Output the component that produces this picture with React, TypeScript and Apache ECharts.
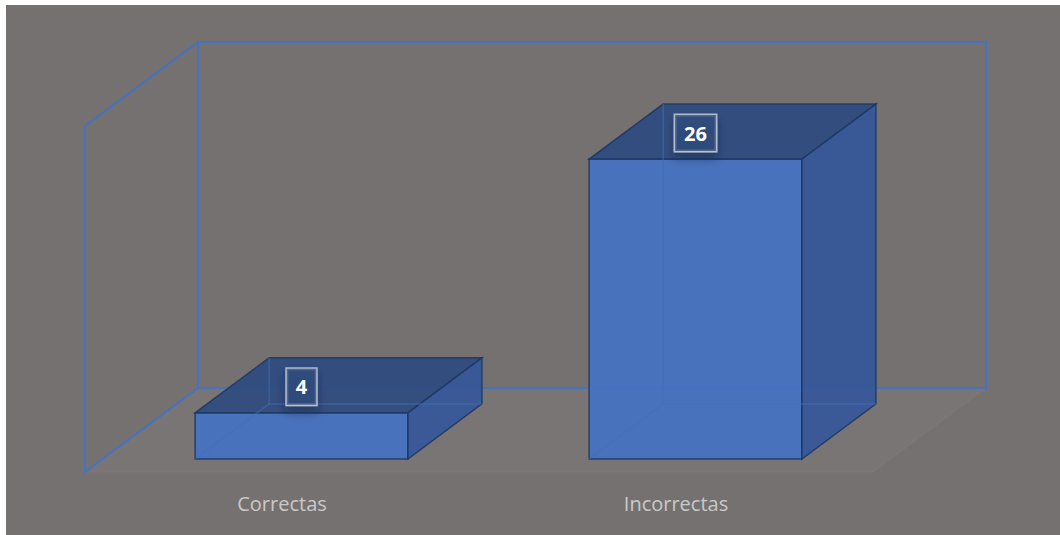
import React, { useEffect, useRef } from "react";
import * as echarts from "echarts";

const categories = ["Correctas", "Incorrectas"];
const values = [4, 26];
const yMax = 30;

// 3D projection constants (depth offset of the back plane)
const DX = 113;
const DY = -84;
const FRONT_T = 0.155;
const BACK_T = 0.81;
const BAR_RATIO = 0.54;
const BAR_SHIFT = 2;

export default function App() {
  const ref = useRef<HTMLDivElement>(null);

  useEffect(() => {
    const chart = echarts.init(ref.current!, null, { renderer: "svg" });

    const wallColor = "#4472C4";

    const renderWalls = (params: any, api: any) => {
      const cs = params.coordSys;
      const x = cs.x, y = cs.y, w = cs.width, h = cs.height;
      return {
        type: "group",
        children: [
          {
            type: "polygon",
            shape: {
              points: [
                [x, y + h],
                [x + w, y + h],
                [x + w + DX, y + h + DY],
                [x + DX, y + h + DY],
              ],
            },
            style: { fill: "rgba(255,255,255,0.03)", stroke: "rgba(255,255,255,0.04)", lineWidth: 1 },
          },
          {
            type: "polygon",
            shape: {
              points: [
                [x + DX, y + DY],
                [x + w + DX, y + DY],
                [x + w + DX, y + h + DY],
                [x + DX, y + h + DY],
              ],
            },
            style: { fill: "none", stroke: wallColor, lineWidth: 2 },
          },
          {
            type: "polyline",
            shape: {
              points: [
                [x + DX, y + DY],
                [x, y],
                [x, y + h],
                [x + DX, y + h + DY],
              ],
            },
            style: { fill: "none", stroke: wallColor, lineWidth: 2 },
          },
        ],
      };
    };

    const renderBars = (params: any, api: any) => {
      const idx = api.value(0);
      const v = api.value(1);
      const top = api.coord([idx, v]);
      const base = api.coord([idx, 0]);
      const half = (api.size([1, 0])[0] * BAR_RATIO) / 2;
      const cx = top[0] + BAR_SHIFT;
      const P = (xo: number, yy: number, t: number) => [cx + xo + DX * t, yy + DY * t];
      const FBL = P(-half, base[1], FRONT_T);
      const FBR = P(half, base[1], FRONT_T);
      const FTR = P(half, top[1], FRONT_T);
      const FTL = P(-half, top[1], FRONT_T);
      const BBL = P(-half, base[1], BACK_T);
      const BBR = P(half, base[1], BACK_T);
      const BTR = P(half, top[1], BACK_T);
      const BTL = P(-half, top[1], BACK_T);
      const edge = "#1F3864";
      const hidden = { stroke: "rgba(70,110,185,0.55)", lineWidth: 1.5, fill: "none" };
      return {
        type: "group",
        children: [
          {
            type: "polygon",
            shape: { points: [FBL, FBR, FTR, FTL] },
            style: { fill: "#4472C4", opacity: 0.9, stroke: edge, lineWidth: 1.5 },
          },
          {
            type: "polygon",
            shape: { points: [FTL, FTR, BTR, BTL] },
            style: { fill: "#2C4A80", opacity: 0.9, stroke: edge, lineWidth: 1.5 },
          },
          {
            type: "polygon",
            shape: { points: [FTR, BTR, BBR, FBR] },
            style: { fill: "#33569A", opacity: 0.9, stroke: edge, lineWidth: 1.5 },
          },
          { type: "polyline", shape: { points: [FBL, BBL, BBR] }, style: hidden },
          { type: "line", shape: { x1: BBL[0], y1: BBL[1], x2: BTL[0], y2: BTL[1] }, style: hidden },
          {
            type: "text",
            x: cx + DX * FRONT_T,
            y: top[1] + DY * FRONT_T - 26,
            style: {
              text: String(v),
              fill: "#ffffff",
              fontFamily: "Open Sans",
              fontWeight: "bold",
              fontSize: 20,
              align: "center",
              verticalAlign: "middle",
              backgroundColor: "rgba(50,78,128,0.75)",
              borderColor: "rgba(255,255,255,0.6)",
              borderWidth: 1.5,
              padding: [8, 9],
              shadowBlur: 10,
              shadowColor: "rgba(20,30,60,0.55)",
              shadowOffsetY: 6,
            },
          },
        ],
      };
    };

    chart.setOption({
      animation: false,
      backgroundColor: "#757170",
      grid: { left: 79, right: 187, top: 121, bottom: 63 },
      xAxis: {
        type: "category",
        data: categories,
        axisLine: { show: false },
        axisTick: { show: false },
        splitLine: { show: false },
        axisLabel: {
          color: "#c9c9c9",
          fontSize: 20,
          fontFamily: "Open Sans",
          margin: 21,
        },
      },
      yAxis: {
        type: "value",
        min: 0,
        max: yMax,
        show: false,
        splitLine: { show: false },
      },
      series: [
        {
          type: "custom",
          data: [[0, 0]],
          renderItem: renderWalls,
          silent: true,
          z: 1,
        },
        {
          type: "custom",
          data: values.map((v, i) => [i, v]),
          renderItem: renderBars,
          z: 2,
        },
      ],
    });

    return () => chart.dispose();
  }, []);

  return (
    <div
      ref={ref}
      style={{ position: "fixed", left: 6, top: 5, width: 1054, height: 530 }}
    />
  );
}
